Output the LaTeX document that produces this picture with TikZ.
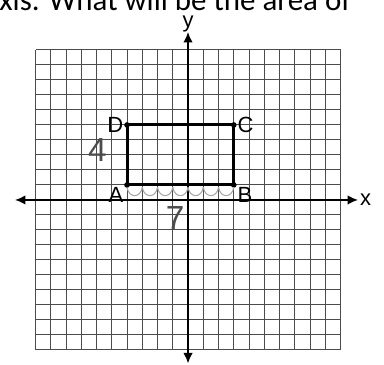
\documentclass[tikz,border=0pt]{standalone}
\usepackage{fontspec}
\setmainfont{Liberation Sans}
\newfontfamily\headfont{Carlito}
\usetikzlibrary{arrows.meta}
\begin{document}
\begin{tikzpicture}[x=0.305cm, y=0.3cm,
    axis/.style={line width=1.1pt, {Latex[length=6pt,width=5.5pt]}-{Latex[length=6pt,width=5.5pt]}},
    corner/.style={font=\fontsize{12.5}{14}\selectfont, inner sep=1pt},
    hand/.style={black!70, font=\fontsize{19}{19}\selectfont}]
    \useasboundingbox (-12.33,-11) rectangle (12.85,13.33);
    % question text, cut at the top
    \node[anchor=base west, inner sep=0pt, font=\headfont\fontsize{17.6}{18}\selectfont] (q) at (-12.4,12.6) {xis. What will be the area of};
    % grid
    \draw[black!70, line width=0.6pt, step=1] (-10,-10) grid (10,10);
    % axes
    \coordinate (xl) at (-11.35,0);
    \coordinate (xr) at (11.15,0);
    \coordinate (yb) at (0,-10.9);
    \coordinate (yt) at (0,11.2);
    \draw[axis] (xl) -- (xr);
    \draw[axis] (yb) -- (yt);
    \node[corner, right] (xlab) at (xr) {x};
    \node[corner] (ylab) at (0,11.75) {y};
    % rectangle
    \coordinate (A) at (-4,1);
    \coordinate (B) at (3,1);
    \coordinate (C) at (3,5);
    \coordinate (D) at (-4,5);
    \draw[line width=1.7pt] (A) -- (B) -- (C) -- (D) -- cycle;
    \foreach \p in {A,B,C,D}
        \fill (\p) circle (1.6pt);
    \node[corner, left=1pt] (la) at ([yshift=-0.2cm]A) {A};
    \node[corner, right=1pt] (lb) at ([yshift=-0.2cm]B) {B};
    \node[corner, right=1pt] (lc) at (C) {C};
    \node[corner, left=1pt] (ld) at (D) {D};
    % handwritten side lengths
    \node[hand] (four) at (-5.95,3.3) {4};
    \node[hand] (seven) at (-0.85,-1.2) {7};
    \foreach \i in {-4,...,2}
        \draw[black!35, line width=0.6pt] (\i,0.85) .. controls (\i+0.1,0.1) and (\i+0.9,0.1) .. (\i+1,0.85);
\end{tikzpicture}
\end{document}
